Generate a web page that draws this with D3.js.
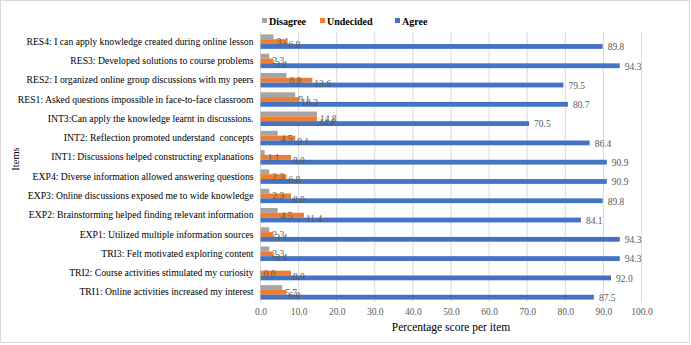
<!DOCTYPE html>
<html>
<head>
<meta charset="utf-8">
<script src="https://cdn.jsdelivr.net/npm/d3@7"></script>
<style>
  body { margin: 0; background: #fff; }
  svg { display: block; }
  svg text { font-family: "Liberation Serif", "Times New Roman", serif; }
</style>
</head>
<body>
<svg id="chart"></svg>
<script>
//Chart Data
const items = [
  "RES4: I can apply knowledge created during online lesson",
  "RES3: Developed solutions to course problems",
  "RES2: I organized online group discussions with my peers",
  "RES1: Asked questions impossible in face-to-face classroom",
  "INT3:Can apply the knowledge learnt in discussions.",
  "INT2: Reflection promoted understand  concepts",
  "INT1: Discussions helped constructing explanations",
  "EXP4: Diverse information allowed answering questions",
  "EXP3: Online discussions exposed me to wide knowledge",
  "EXP2: Brainstorming helped finding relevant information",
  "EXP1: Utilized multiple information sources",
  "TRI3: Felt motivated exploring content",
  "TRI2: Course activities stimulated my curiosity",
  "TRI1: Online activities increased my interest"
];
const disagree  = [3.4, 2.3, 6.8, 9.1, 14.8, 4.5, 1.1, 2.3, 2.3, 4.5, 2.3, 2.3, 0.0, 5.7];
const undecided = [6.8, 3.4, 13.6, 10.2, 14.8, 9.1, 8.0, 6.8, 8.0, 11.4, 3.4, 3.4, 8.0, 6.8];
const agree     = [89.8, 94.3, 79.5, 80.7, 70.5, 86.4, 90.9, 90.9, 89.8, 84.1, 94.3, 94.3, 92.0, 87.5];
const seriesNames = ["Disagree", "Undecided", "Agree"];
const xTicks = [0, 10, 20, 30, 40, 50, 60, 70, 80, 90, 100];

//Series look (colour, label offsets)
const seriesStyle = {
  "Disagree":  { color: "#A5A5A5", gap: 3, dy: 5 },
  "Undecided": { color: "#ED7D31", gap: 2, dy: 3.5 },
  "Agree":     { color: "#4472C4", gap: 5, dy: 0.5 }
};
const seriesValues = { "Disagree": disagree, "Undecided": undecided, "Agree": agree };

const w = 691;
const h = 345;
const plotLeft = 260.5;
const plotRight = 641.5;
const plotTop = 32;
const plotBottom = 302;
const serif = "Liberation Serif";

const svg = d3.select("#chart").attr("width", w).attr("height", h);

//Outer border
svg.append("rect")
   .attr("x", 0.5).attr("y", 0.5)
   .attr("width", 689).attr("height", 342)
   .attr("fill", "#fff")
   .attr("stroke", "#D9D9D9");

//Scales
const xScale = d3.scaleLinear().domain([0, 100]).range([plotLeft, plotRight]);
const yScale = d3.scaleBand().domain(items).range([plotTop, plotBottom])
                 .paddingInner(0.25).paddingOuter(0.125);
const ySub = d3.scaleBand().domain(seriesNames).range([0, yScale.bandwidth()]);

//Gridlines
svg.append("g")
   .selectAll("line")
   .data(xTicks)
   .join("line")
   .attr("x1", d => xScale(d)).attr("x2", d => xScale(d))
   .attr("y1", plotTop).attr("y2", plotBottom)
   .attr("stroke", "#D9D9D9")
   .attr("stroke-width", 1);

//X axis (labels only)
const xAxis = d3.axisBottom(xScale)
                .tickValues(xTicks)
                .tickFormat(d3.format(".1f"))
                .tickSize(0)
                .tickPadding(6);
const gx = svg.append("g")
   .attr("transform", "translate(0," + plotBottom + ")")
   .call(xAxis)
   .attr("font-family", serif);
gx.select(".domain").remove();
gx.selectAll("text")
  .attr("fill", "#595959")
  .attr("font-size", 9.5);

//Y axis (category labels)
const yAxis = d3.axisLeft(yScale).tickSize(0).tickPadding(7);
const gy = svg.append("g")
   .attr("transform", "translate(" + plotLeft + ",0)")
   .call(yAxis)
   .attr("font-family", serif);
gy.select(".domain").remove();
gy.selectAll("text")
  .attr("fill", "#000")
  .attr("font-size", 9.7)
  .style("white-space", "pre");

//Bars first, then all labels on top
const rows = items.map((item, i) => ({ item, i }));
const barLayer = svg.append("g");
const labelLayer = svg.append("g");
seriesNames.forEach(name => {
  const st = seriesStyle[name];
  const vals = seriesValues[name];
  barLayer.append("g")
   .selectAll("rect")
   .data(rows)
   .join("rect")
   .attr("x", xScale(0))
   .attr("y", d => yScale(d.item) + ySub(name))
   .attr("width", d => xScale(vals[d.i]) - xScale(0))
   .attr("height", ySub.bandwidth())
   .attr("fill", st.color);
  labelLayer.append("g")
   .selectAll("text")
   .data(rows)
   .join("text")
   .attr("x", d => xScale(vals[d.i]) + st.gap)
   .attr("y", d => yScale(d.item) + ySub(name) + ySub.bandwidth() / 2 + st.dy)
   .attr("dy", "0.35em")
   .attr("fill", "#595959")
   .attr("font-family", serif)
   .attr("font-size", 9.5)
   .text(d => vals[d.i].toFixed(1));
});

//Legend
const legendX = [262, 320, 395];
const legend = svg.append("g");
seriesNames.forEach((name, i) => {
  legend.append("rect")
        .attr("x", legendX[i]).attr("y", 18)
        .attr("width", 5).attr("height", 5)
        .attr("fill", seriesStyle[name].color);
  legend.append("text")
        .attr("x", legendX[i] + 7).attr("y", 21)
        .attr("dy", "0.35em")
        .attr("font-family", serif)
        .attr("font-size", 10)
        .attr("font-weight", "bold")
        .attr("fill", "#000")
        .text(name);
});

//Axis titles
svg.append("text")
   .attr("x", (plotLeft + plotRight) / 2)
   .attr("y", 327)
   .attr("dy", "0.35em")
   .attr("text-anchor", "middle")
   .attr("font-family", serif)
   .attr("font-size", 11.5)
   .attr("fill", "#000")
   .text("Percentage score per item");

svg.append("text")
   .attr("transform", "translate(15,159) rotate(-90)")
   .attr("dy", "0.35em")
   .attr("text-anchor", "middle")
   .attr("font-family", serif)
   .attr("font-size", 10.5)
   .attr("fill", "#000")
   .text("Items");
</script>
</body>
</html>
